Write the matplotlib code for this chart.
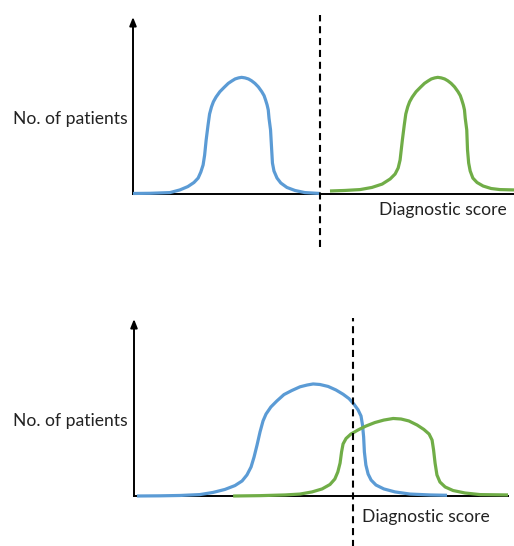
import matplotlib
matplotlib.use("Agg")
import matplotlib.pyplot as plt

# ---- data (arbitrary units: score 0-100, patient count 0-100) ----
top_blue_score = [0, 4.5, 9.7, 12.3, 14.4, 16.0, 17.1, 17.8, 18.4, 18.8, 19.2, 19.7, 20.1,
                  20.6, 21.1, 21.8, 22.8, 23.9, 25.0, 25.9, 26.8, 27.7, 28.5, 29.4, 30.3,
                  31.1, 32.0, 32.9, 33.8, 34.4, 34.8, 35.2, 35.5, 35.7, 36.1, 36.4, 36.6,
                  37.0, 37.8, 38.8, 40.4, 42.5, 45.1, 49.1]
top_blue_count = [0.3, 0.4, 0.8, 2.3, 4.2, 6.5, 9.0, 12.4, 16.4, 22.0, 30.5, 39.0, 45.2,
                  49.2, 52.1, 54.8, 57.8, 60.2, 62.5, 63.8, 65.0, 65.6, 65.9, 65.6, 65.0,
                  64.0, 62.5, 60.5, 57.8, 55.6, 53.1, 50.3, 47.5, 42.8, 36.2, 24.9, 17.5,
                  13.0, 9.0, 6.2, 3.7, 2.0, 0.8, 0.3]

top_green_score = [51.7, 55.6, 59.6, 62.7, 65.4, 67.5, 68.8, 69.6, 70.1, 70.7, 71.2, 71.6,
                   72.1, 72.6, 73.3, 74.3, 75.4, 76.5, 77.4, 78.3, 79.2, 80.0, 80.9, 81.8,
                   82.6, 83.5, 84.4, 85.3, 85.9, 86.3, 86.7, 87.0, 87.2, 87.6, 87.8, 88.1,
                   88.5, 89.2, 90.3, 91.9, 94.0, 96.3, 100]
top_green_count = [1.7, 2.0, 2.5, 3.7, 5.6, 8.5, 11.3, 14.7, 19.2, 30.5, 39.0, 45.2,
                   49.2, 52.1, 54.8, 57.8, 60.2, 62.5, 63.8, 65.0, 65.6, 65.9, 65.6, 65.0,
                   64.0, 62.5, 60.5, 57.8, 55.6, 53.1, 50.3, 47.5, 42.8, 36.2, 24.9, 17.5,
                   13.0, 9.0, 6.5, 4.5, 3.1, 2.5, 2.3]

bot_blue_score = [0.8, 7.0, 12.3, 17.6, 21.1, 24.3, 27.0, 28.9, 30.2, 31.3, 32.1, 32.9,
                  33.7, 34.5, 35.3, 36.6, 38.2, 40.1, 42.2, 44.4, 46.3, 47.9, 49.7, 51.9,
                  54.0, 55.9, 57.5, 58.8, 59.9, 60.7, 61.1, 61.4, 61.6, 62.0, 62.6, 63.4,
                  64.7, 66.8, 69.8, 73.8, 79.1, 83.7]
bot_blue_count = [0, 0.1, 0.3, 0.8, 2.0, 3.7, 5.9, 8.5, 11.9, 16.4, 22.0, 28.8,
                  36.2, 42.4, 46.3, 50.3, 53.7, 57.3, 59.6, 61.7, 62.7, 63.3, 63.0, 61.9,
                  59.9, 57.5, 55.0, 51.9, 48.7, 45.2, 40.1, 33.3, 24.9, 17.5, 12.4, 9.0,
                  6.2, 4.0, 2.3, 1.1, 0.6, 0.4]

bot_green_score = [26.5, 33.7, 40.4, 44.4, 47.6, 50.3, 52.4, 53.7, 54.5, 55.1, 55.5, 55.9,
                   56.7, 58.0, 59.9, 62.0, 64.4, 66.8, 69.3, 71.4, 73.5, 75.7, 77.5, 78.9,
                   79.7, 80.1, 80.5, 81.0, 81.8, 83.2, 85.3, 88.5, 92.5, 100]
bot_green_count = [0, 0.2, 0.6, 1.1, 2.3, 4.0, 6.5, 9.6, 13.6, 18.6, 24.9, 29.4,
                   32.5, 35.0, 37.3, 39.5, 41.5, 42.9, 43.8, 43.5, 42.4, 40.1, 37.6, 35.0,
                   31.6, 26.0, 18.6, 11.9, 7.9, 5.1, 3.1, 1.7, 0.8, 0.6]

top_threshold = 49.1
bot_threshold = 58.6

y_label = "No. of patients"
x_label = "Diagnostic score"

# ---- styling ----
BLUE = "#5B9BD5"
GREEN = "#70AD47"
FONT = "Lato"
FS = 12.6

W, H = 514, 546
fig = plt.figure(figsize=(W / 100, H / 100), dpi=100)


def px_axes(left, right, top, bottom):
    return fig.add_axes([left / W, 1 - bottom / H, (right - left) / W, (bottom - top) / H])


def setup(ax):
    ax.set_xlim(0, 100)
    ax.set_ylim(0, 100)
    for s in ("top", "right", "left"):
        ax.spines[s].set_visible(False)
    ax.spines["bottom"].set_linewidth(1.4)
    ax.spines["bottom"].set_color("black")
    ax.set_xticks([])
    ax.set_yticks([])
    ax.patch.set_alpha(0)
    ax.annotate("", xy=(0, 1), xytext=(0, 0), xycoords="axes fraction",
                arrowprops=dict(arrowstyle="-|>,head_length=0.5,head_width=0.2",
                                color="black", lw=1.4, shrinkA=0, shrinkB=0),
                annotation_clip=False)


def curve(ax, x, y, color):
    ax.plot(x, y, color=color, lw=2.3, solid_joinstyle="round",
            solid_capstyle="butt", clip_on=False, zorder=3)


# top panel
ax1 = px_axes(133, 514, 17, 194)
setup(ax1)
curve(ax1, top_blue_score, top_blue_count, BLUE)
curve(ax1, top_green_score, top_green_count, GREEN)
ax1.axvline(top_threshold, ymin=-0.30, ymax=1.01, color="black", lw=1.5,
            dashes=(3.4, 2.3), clip_on=False, zorder=4)

# bottom panel
ax2 = px_axes(134, 508, 319, 496)
setup(ax2)
curve(ax2, bot_blue_score, bot_blue_count, BLUE)
curve(ax2, bot_green_score, bot_green_count, GREEN)
ax2.axvline(bot_threshold, ymin=-0.29, ymax=1.006, color="black", lw=1.5,
            dashes=(3.4, 2.3), clip_on=False, zorder=4)

# labels
txt = dict(family=[FONT, "DejaVu Sans"], fontsize=FS, color="#222222")
fig.text(128 / W, 1 - 119 / H, y_label, ha="right", va="center", **txt)
fig.text(128 / W, 1 - 421 / H, y_label, ha="right", va="center", **txt)
fig.text(442.5 / W, 1 - 210 / H, x_label, ha="center", va="center", **txt)
fig.text(425.5 / W, 1 - 517 / H, x_label, ha="center", va="center", **txt)

fig.savefig("out.png", dpi=100)
